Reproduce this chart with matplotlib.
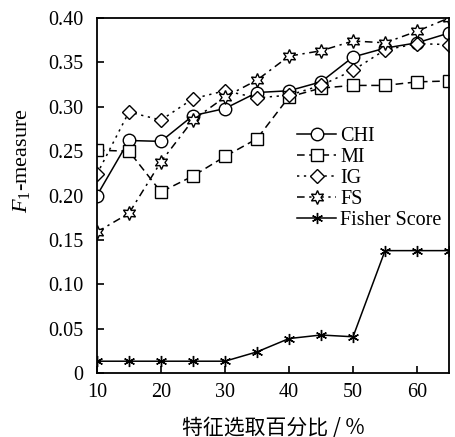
import matplotlib
matplotlib.use("Agg")
import matplotlib.pyplot as plt

plt.rcParams['font.family'] = ['Liberation Serif', 'Noto Sans CJK SC', 'DejaVu Sans']
plt.rcParams['mathtext.fontset'] = 'custom'
plt.rcParams['mathtext.rm'] = 'Liberation Serif'
plt.rcParams['mathtext.it'] = 'Liberation Serif:italic'

# feature selection percentage
pct = [10, 15, 20, 25, 30, 35, 40, 45, 50, 55, 60, 65]

chi = [0.200, 0.262, 0.261, 0.290, 0.298, 0.316, 0.318, 0.328, 0.356, 0.366, 0.372, 0.383]
mi = [0.251, 0.250, 0.204, 0.222, 0.244, 0.264, 0.311, 0.321, 0.324, 0.324, 0.328, 0.329]
ig = [0.224, 0.294, 0.285, 0.309, 0.318, 0.310, 0.313, 0.324, 0.341, 0.364, 0.371, 0.370]
fs = [0.159, 0.180, 0.238, 0.285, 0.311, 0.330, 0.357, 0.363, 0.374, 0.372, 0.385, 0.400]
fisher = [0.0135, 0.0135, 0.0135, 0.0135, 0.0135, 0.024, 0.039, 0.043, 0.041, 0.138, 0.138, 0.138]

fig = plt.figure(figsize=(4.55, 4.37), dpi=100)
ax = fig.add_axes([0.213, 0.146, 0.774, 0.813])

mk = dict(markerfacecolor='white', markeredgecolor='black', color='black', lw=1.1, mew=1.0)
ax.plot(pct, chi, '-', marker='o', ms=9, label='CHI', **mk)
ax.plot(pct, mi, linestyle=(0, (5, 3)), marker='s', ms=8, label='MI', **mk)
ax.plot(pct, ig, linestyle=(0, (1.5, 3)), marker='D', ms=7.5, label='IG', **mk)
ax.plot(pct, fs, linestyle=(0, (5, 3, 1.5, 3)), marker=(6, 1, 0), ms=10, label='FS', **mk)
ax.plot(pct, fisher, '-', marker=(6, 2, 0), ms=8, label='Fisher Score', **mk)

ax.set_xlim(10, 65)
ax.set_ylim(0, 0.40)
ax.set_xticks([10, 20, 30, 40, 50, 60])
ax.set_yticks([0, 0.05, 0.10, 0.15, 0.20, 0.25, 0.30, 0.35, 0.40])
ax.set_yticklabels(['0', '0.05', '0.10', '0.15', '0.20', '0.25', '0.30', '0.35', '0.40'])
ax.tick_params(direction='in', length=5, width=1.2, labelsize=14.5, top=False, right=False)
ax.tick_params(axis='y', pad=10)
ax.tick_params(axis='x', pad=7)
for s in ax.spines.values():
    s.set_linewidth(1.3)

ax.set_xlabel('特征选取百分比 / %', fontsize=15, family=['Noto Sans CJK SC', 'DejaVu Sans'])
ax.xaxis.set_label_coords(0.5, -0.122)
ax.set_ylabel('$F_1$-measure', fontsize=16)
ax.yaxis.set_label_coords(-0.213, 0.597)
ax.yaxis.label.set_va('center')

ax.legend(loc='upper left', bbox_to_anchor=(0.54, 0.722), frameon=False, fontsize=14.5,
          handlelength=1.95, handletextpad=0.2, labelspacing=0.1, borderpad=0)

fig.savefig('out.png', dpi=100)
